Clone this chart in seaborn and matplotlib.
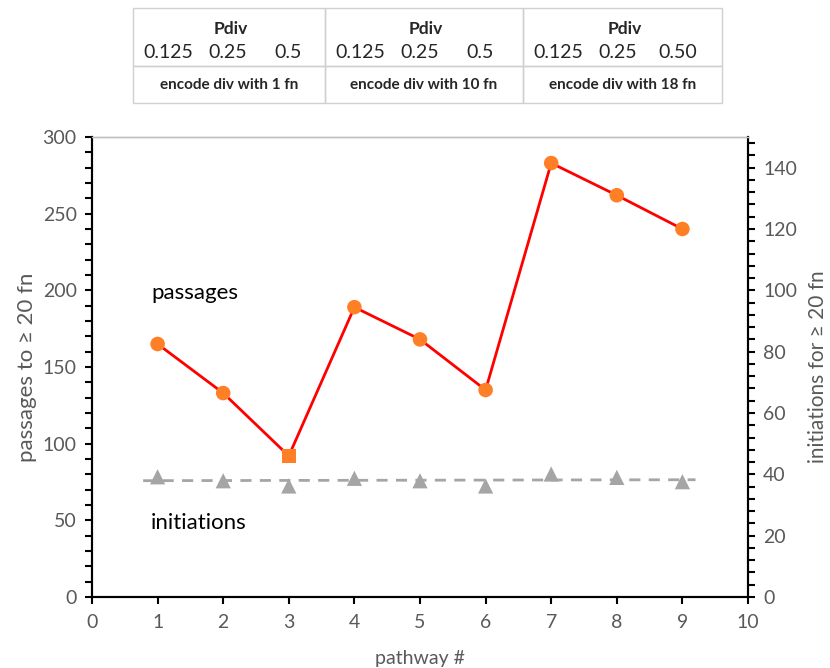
import numpy as np
import pandas as pd
import seaborn as sns
import matplotlib.pyplot as plt
from matplotlib.patches import Rectangle
from matplotlib.ticker import MultipleLocator

# data
pathway = [1, 2, 3, 4, 5, 6, 7, 8, 9]
passages = [165, 133, 92, 189, 168, 135, 283, 262, 240]
initiations = [39.2, 37.9, 36.2, 38.7, 37.9, 36.2, 40.1, 39.0, 37.6]
marker_kind = ['circle', 'circle', 'square', 'circle', 'circle',
               'circle', 'circle', 'circle', 'circle']

pdiv_values = [['0.125', '0.25', '0.5'], ['0.125', '0.25', '0.5'], ['0.125', '0.25', '0.50']]
encode_labels = ['encode div with 1 fn', 'encode div with 10 fn', 'encode div with 18 fn']

df = pd.DataFrame({'pathway': pathway, 'passages': passages,
                   'initiations': initiations, 'kind': marker_kind})

sns.set_style("white")
plt.rcParams['font.family'] = ['Lato', 'DejaVu Sans']

grey_txt = '#595959'
fig = plt.figure(figsize=(8.3, 6.68), dpi=100)
ax = fig.add_axes([92/830, 71/668, 656/830, 460/668])

sns.lineplot(data=df, x='pathway', y='passages', color='#FF0000', lw=2, ax=ax, zorder=3)
sns.scatterplot(data=df, x='pathway', y='passages', style='kind',
                markers={'circle': 'o', 'square': 's'}, color='#FF7F27',
                s=110, edgecolor='none', legend=False, ax=ax, zorder=4)

ax2 = ax.twinx()
sns.scatterplot(data=df, x='pathway', y='initiations', marker='^', color='#A5A5A5',
                s=120, edgecolor='none', legend=False, ax=ax2, zorder=2)
# linear trend line through initiations
k, b = np.polyfit(df['pathway'], df['initiations'], 1)
xt = np.array([0.78, 9.2])
ax2.plot(xt, k * xt + b, ls=(0, (4, 3)), color='#A5A5A5', lw=2, zorder=1)

ax.set_xlim(0, 10)
ax.set_ylim(0, 300)
ax2.set_ylim(0, 150)
ax.xaxis.set_major_locator(MultipleLocator(1))
ax.yaxis.set_major_locator(MultipleLocator(50))
ax.yaxis.set_minor_locator(MultipleLocator(10))
ax2.yaxis.set_major_locator(MultipleLocator(20))
ax2.yaxis.set_minor_locator(MultipleLocator(4))

for a in (ax, ax2):
    a.tick_params(which='both', direction='out', length=5, width=1.5,
                  color='black', labelcolor=grey_txt, labelsize=14)
    a.tick_params(axis='y', which='major', pad=6)
    for side in ['left', 'bottom', 'right']:
        a.spines[side].set_color('black')
        a.spines[side].set_linewidth(1.5)
    a.spines['top'].set_color('#C0C0C0')
    a.spines['top'].set_linewidth(1)
ax.tick_params(axis='x', which='major', bottom=True, pad=7)
ax.tick_params(axis='y', which='both', left=True)
ax2.tick_params(axis='y', which='both', right=True)

ax.set_xlabel('pathway #', fontsize=14, color=grey_txt, labelpad=14)
ax.set_ylabel('passages to \u2265 20 fn', fontsize=16, color=grey_txt, labelpad=4)
ax2.set_ylabel('initiations for \u2265 20 fn', fontsize=15, color=grey_txt, labelpad=8)

ax.text(0.9, 198, 'passages', fontsize=16, color='black', va='center')
ax.text(0.9, 48, 'initiations', fontsize=16, color='black', va='center')

# header boxes above the plot, in pixel coords
hd = fig.add_axes([0, 0, 1, 1], zorder=-1)
hd.set_xlim(0, 830)
hd.set_ylim(668, 0)
hd.axis('off')
edges = [133, 325, 523, 722]
for i in range(3):
    x0, x1 = edges[i], edges[i + 1]
    hd.add_patch(Rectangle((x0, 8), x1 - x0, 58, fill=False, ec='#D0D0D0', lw=1))
    hd.add_patch(Rectangle((x0, 66), x1 - x0, 37, fill=False, ec='#D0D0D0', lw=1))
    xc = (x0 + x1) / 2
    hd.text(xc + 2, 29, 'Pdiv', ha='center', va='center', fontsize=12.5, fontweight='bold')
    for j, v in enumerate(pdiv_values[i]):
        hd.text(x0 + 35 + j * 60, 52, v, ha='center', va='center', fontsize=14)
    hd.text(xc, 85, encode_labels[i], ha='center', va='center', fontsize=11, fontweight='bold')

fig.savefig('out.png', dpi=100)
